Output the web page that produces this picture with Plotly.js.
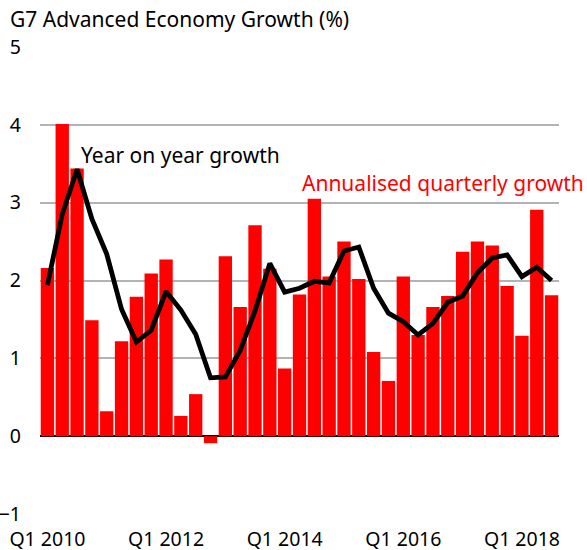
<!DOCTYPE html>
<html>
<head>
<meta charset="utf-8">
<script src="https://cdn.plot.ly/plotly-3.0.1.min.js"></script>
<style>html,body{margin:0;padding:0;background:#fff;}#chart{width:587px;height:550px;}</style>
</head>
<body>
<div id="chart"></div>
<script>
const quarters = [];
for (let y = 2010; y <= 2018; y++) {
  for (let q = 1; q <= 4; q++) {
    if (y === 2018 && q > 3) break;
    quarters.push('Q' + q + ' ' + y);
  }
}
const annualisedQuarterly = [2.16, 4.01, 3.44, 1.49, 0.32, 1.22, 1.79, 2.09, 2.27, 0.26, 0.54, -0.09,
  2.31, 1.66, 2.71, 2.15, 0.87, 1.82, 3.05, 2.05, 2.50, 2.02, 1.08, 0.71,
  2.05, 1.30, 1.66, 1.80, 2.37, 2.50, 2.45, 1.93, 1.29, 2.91, 1.81];
const yearOnYear = [1.94, 2.85, 3.43, 2.79, 2.34, 1.63, 1.21, 1.36, 1.86, 1.62, 1.31, 0.75,
  0.76, 1.10, 1.61, 2.22, 1.85, 1.90, 1.99, 1.97, 2.38, 2.43, 1.90, 1.58,
  1.47, 1.30, 1.45, 1.72, 1.80, 2.10, 2.29, 2.33, 2.05, 2.17, 2.00];
const xTickVals = ['Q1 2010', 'Q1 2012', 'Q1 2014', 'Q1 2016', 'Q1 2018'];
const yTickVals = [-1, 0, 1, 2, 3, 4, 5];

const FONT = 'Noto Sans, Open Sans, sans-serif';

const traces = [
  {
    type: 'bar', x: quarters, y: annualisedQuarterly,
    marker: {color: '#ff0000', line: {width: 0}},
    hoverinfo: 'x+y', name: 'Annualised quarterly growth'
  },
  {
    type: 'scatter', mode: 'lines', x: quarters, y: yearOnYear,
    line: {color: '#000000', width: 4.8}, name: 'Year on year growth'
  }
];

const layout = {
  width: 587, height: 550,
  margin: {l: 40, r: 28, t: 47, b: 36},
  paper_bgcolor: '#ffffff', plot_bgcolor: '#ffffff',
  showlegend: false,
  bargap: 0.1,
  font: {family: FONT, size: 21, color: '#000'},
  title: {
    text: 'G7 Advanced Economy Growth (%)',
    font: {family: FONT, size: 21, color: '#000'},
    xref: 'container', yref: 'container',
    x: 0.017, xanchor: 'left', y: 0.965, yanchor: 'middle'
  },
  xaxis: {
    type: 'category',
    tickmode: 'array', tickvals: xTickVals, ticktext: xTickVals,
    showgrid: false, zeroline: false, showline: false,
    ticks: '', ticklabelstandoff: 11,
    tickfont: {family: FONT, size: 19.5, color: '#000'},
    range: [-0.5, quarters.length - 0.5]
  },
  yaxis: {
    range: [-1, 5],
    tickmode: 'array', tickvals: yTickVals,
    showgrid: true, gridcolor: '#b3b3b3', gridwidth: 2,
    zeroline: true, zerolinecolor: '#000', zerolinewidth: 1.5,
    showline: false, ticks: '', ticklabelstandoff: 18,
    tickfont: {family: FONT, size: 19.5, color: '#000'}
  },
  annotations: [
    {
      text: 'Year on year growth', xref: 'paper', yref: 'paper',
      x: 0.075, y: 0.769, xanchor: 'left', yanchor: 'middle', showarrow: false,
      font: {family: FONT, size: 21, color: '#000'}
    },
    {
      text: 'Annualised quarterly growth', xref: 'paper', yref: 'paper',
      x: 0.5, y: 0.709, xanchor: 'left', yanchor: 'middle', showarrow: false,
      font: {family: FONT, size: 21, color: '#ff0000'}
    }
  ]
};

Plotly.newPlot('chart', traces, layout, {displayModeBar: false, staticPlot: true});
</script>
</body>
</html>
